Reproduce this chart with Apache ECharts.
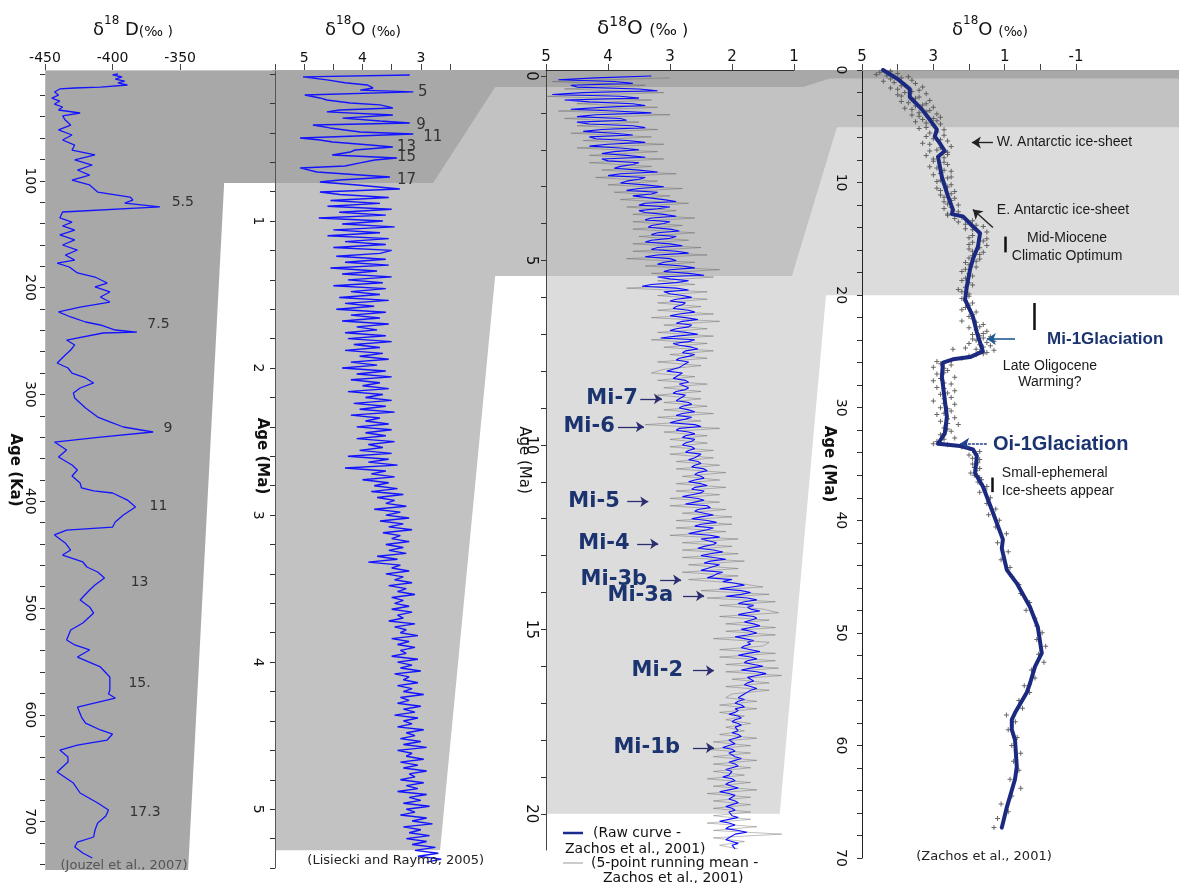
<!DOCTYPE html>
<html><head><meta charset="utf-8">
<script src="https://cdn.jsdelivr.net/npm/echarts@6/dist/echarts.min.js"></script>
<style>html,body{margin:0;padding:0;background:#fff}#c{width:1179px;height:883px}</style>
</head><body><div id="c"></div>
<script>
// ---------------- DATA ----------------
// Panel 1: EPICA deltaD  [age ka, deltaD permil]
const epicaDeltaD = [[0,-396],[0.9,-400],[2.8,-393],[4.7,-398],[6.6,-391],[8.4,-396],[10.3,-389],[12.2,-409],[13.1,-428],[14,-439],[16.9,-443],[19.7,-440],[22.5,-445],[25.3,-439],[28.1,-443],[30.9,-437],[33.7,-440],[36.5,-424],[39.3,-437],[43.1,-435],[47.8,-431],[52.4,-440],[57.1,-430],[61.8,-437],[66.5,-428],[71.2,-430],[75.8,-413],[80.5,-428],[85.2,-415],[89.9,-426],[94.6,-417],[99.3,-430],[103.9,-417],[110.5,-411],[115.2,-387],[118,-385],[120.8,-391],[124.5,-365],[129.2,-437],[134.8,-439],[138.6,-430],[142.3,-437],[146.1,-428],[150.7,-439],[155.4,-428],[160.1,-437],[164.8,-426],[169.5,-435],[174.2,-428],[177,-441],[180.7,-432],[186.3,-426],[190.1,-413],[195.7,-404],[199.4,-413],[204.1,-402],[208.8,-409],[213.5,-402],[218.2,-424],[222.8,-440],[227.5,-431],[232.2,-420],[235,-409],[239.7,-398],[241.6,-382],[242.5,-407],[249.1,-434],[253.7,-428],[258.4,-431],[263.1,-435],[270.6,-441],[275.3,-433],[280,-430],[284.6,-420],[289.3,-414],[294,-424],[298.7,-429],[303.4,-428],[308,-424],[312.7,-420],[317.4,-415],[321.2,-411],[325.8,-402],[330.5,-392],[335.2,-370],[339.9,-409],[344.6,-443],[352,-434],[358.6,-440],[366.1,-430],[370.8,-426],[376.4,-430],[383,-424],[387.6,-423],[390.4,-414],[392.3,-400],[398.9,-389],[405.4,-383],[412.9,-392],[419.5,-398],[424.2,-400],[427,-434],[431.6,-443],[439.1,-435],[445.7,-431],[450.4,-437],[456.9,-422],[461.6,-419],[466.3,-411],[471.9,-406],[478.5,-413],[483.1,-417],[492.5,-424],[499,-417],[504.7,-414],[514,-422],[520.6,-431],[530,-434],[534.6,-428],[539.3,-417],[545.9,-426],[555.2,-409],[564.6,-402],[576.8,-402],[580.5,-403],[584.3,-398],[592.7,-426],[602.1,-423],[607.7,-420],[614.2,-409],[618,-400],[623.6,-404],[628.3,-426],[633,-439],[639.5,-433],[644.2,-433],[653.6,-441],[663.9,-429],[673.2,-424],[682.6,-411],[689.1,-403],[694.8,-405],[701.3,-411],[707.9,-413],[714.4,-414],[719.1,-426],[723.8,-428],[729.4,-422],[734.1,-415]];
const epicaLabels = [[120,-348,'5.5'],[234,-366,'7.5'],[332,-359,'9'],[405,-366,'11'],[476,-380,'13'],[571,-380,'15.'],[691,-376,'17.3']];

// Panel 2: LR04 benthic d18O  [age Ma, d18O]
const lr04Early = [[0.007,3.19],[0.02,5.02],[0.04,4.61],[0.06,4.30],[0.075,3.92],[0.095,3.82],[0.11,4.04],[0.122,3.13],[0.143,4.99],[0.163,4.73],[0.177,4.61],[0.197,4.21],[0.21,3.70],[0.231,3.48],[0.245,4.39],[0.258,4.61],[0.279,3.48],[0.3,4.34],[0.32,3.70],[0.333,3.19],[0.347,4.85],[0.367,4.56],[0.395,4.04],[0.408,3.13],[0.435,5.07],[0.449,4.73],[0.463,4.51],[0.483,3.87],[0.497,3.48],[0.517,4.13],[0.531,4.21],[0.551,4.52],[0.571,3.41],[0.585,3.79],[0.605,4.04],[0.626,4.30],[0.639,5.07],[0.667,4.78],[0.687,4.04],[0.701,3.53],[0.721,4.39],[0.735,4.73],[0.755,4.09],[0.782,3.36],[0.803,4.73],[0.82,4.39]];
const lr04LateStart = 0.84, lr04LateStep = 0.02;
const lr04Late = [3.55,4.55,3.7,4.6,3.5,4.4,3.6,4.75,3.65,4.35,3.45,4.5,3.7,4.6,3.55,4.3,3.6,4.5,3.5,
3.7,4.45,3.6,4.3,3.55,4.55,3.75,4.35,3.5,4.25,3.65,4.5,3.6,4.2,3.7,4.4,3.55,4.3,3.8,4.45,
3.6,4.2,3.7,4.35,3.55,4.1,3.75,4.3,3.6,4.25,3.5,4.15,3.7,4.3,3.65,4.05,3.55,4.2,3.75,4.35,
3.6,4.1,3.5,4.2,3.7,4.0,3.55,4.25,3.65,3.95,3.5,4.15,3.6,4.05,3.45,4.2,3.7,3.95,3.55,4.1,
3.5,3.95,3.6,4.1,3.45,3.9,3.65,4.05,3.5,4.25,3.55,3.9,3.4,4.3,3.6,3.85,3.45,4.0,3.55,3.8,
3.4,3.85,3.3,3.75,3.45,3.6,3.25,3.8,3.35,3.6,3.2,3.7,3.3,3.55,3.15,3.65,3.35,3.5,3.2,3.6,
3.3,3.55,3.25,3.75,3.4,3.9,3.35,3.5,3.2,3.6,3.3,3.45,3.15,3.55,3.25,3.4,3.1,3.5,3.3,3.45,
3.2,3.5,3.15,3.4,3.3,3.55,3.1,3.45,3.25,3.35,3.05,3.5,3.2,3.4,3.1,3.35,3.25,3.5,3.05,3.4,
3.15,3.35,3.0,3.45,3.2,3.3,3.05,3.4,3.15,3.3,2.95,3.35,3.2,3.4,3.0,3.3,3.1,3.45,3.05,3.3,
3.15,3.4,2.95,3.25,3.1,3.35,3.0,3.3,2.9,3.4,3.15,3.25,2.95,3.35,3.05,3.3,2.9,3.2,3.1,3.35,
2.95,3.25,3.05,3.4,2.9,3.2,3.0,3.3,2.85,3.25,3.1,3.35,2.9,3.15,2.8,3.3,3.0,3.2,2.85,3.25,
2.9,3.15,2.75,3.1,2.7,3.05,2.65,2.9];
const lr04Labels = [[0.123,3.05,'5'],[0.347,3.08,'9'],[0.429,2.96,'11'],[0.497,3.41,'13'],[0.565,3.41,'15'],[0.721,3.41,'17']];

// Panel 3: Zachos et al. 2001, 0-21 Ma (raw at 0.0,0.1,...; rawB at 0.05,0.15,...; mean at 0.05,0.15,...)
const rawStart = 0.0, rawBStart = 0.05, meanStart = 0.05, zStep = 0.1;
const zachosRaw = [3.3,4.8,3.6,4.5,3.2,4.9,3.5,4.3,3.4,4.6,
3.3,4.5,3.7,4.3,3.4,4.4,3.6,4.2,3.4,4.3,
3.5,4.1,3.4,4.0,3.6,3.9,3.2,4.0,3.5,3.8,
3.1,3.7,3.3,3.6,2.9,3.5,3.2,3.4,2.9,3.4,
3.1,3.35,2.85,3.3,3.0,3.4,2.8,3.3,2.7,3.4,
2.9,3.2,2.6,3.1,2.45,3.0,2.9,3.45,2.7,3.0,
2.65,3.0,2.8,2.95,2.6,3.0,2.55,2.9,2.7,3.0,
2.55,3.15,2.7,2.85,2.55,2.8,2.7,2.9,2.75,2.85,
3.05,2.85,2.95,2.7,2.85,2.75,2.95,2.8,2.9,2.65,
2.85,2.6,2.9,2.75,3.0,2.5,2.9,2.6,2.8,2.65,
2.8,2.6,2.75,2.55,2.7,2.5,2.65,2.4,2.6,2.45,
2.7,2.4,2.65,2.5,2.8,2.45,2.75,2.35,2.6,2.3,
2.65,2.25,2.6,2.4,2.7,2.2,2.5,2.3,2.55,2.15,
2.5,2.1,2.45,2.2,2.5,2.25,2.4,2.15,1.8,2.2,
1.7,2.1,1.6,1.9,1.75,1.55,1.9,1.6,1.8,1.55,
1.85,1.6,1.95,1.65,1.7,1.85,1.55,1.9,1.6,1.8,
1.5,1.85,1.45,1.75,1.65,1.8,1.6,1.75,1.85,1.8,
1.95,1.8,1.9,2.05,1.85,2.0,1.85,1.95,2.0,1.85,
2.05,1.95,2.15,1.95,2.05,1.85,2.05,1.9,2.1,2.0,
2.15,1.95,2.1,1.9,2.2,1.95,2.05,1.9,2.1,1.95,
2.05,1.9,2.2,1.95,2.1,1.76,2.0,2.1,1.9,2.0];
const zachosRawB = [4.2,3.9,4.6,3.5,4.4,3.8,4.7,3.6,4.1,3.9,
4.2,3.8,4.5,3.6,4.1,3.9,4.3,3.7,4.0,3.8,
3.9,3.7,4.1,3.5,3.8,3.5,3.8,3.4,3.7,3.4,
3.5,3.2,3.6,3.1,3.4,3.0,3.5,3.1,3.3,3.0,
3.3,3.0,3.2,2.9,3.3,3.0,3.2,2.9,3.2,3.0,
3.1,2.8,3.0,2.7,3.2,2.7,3.3,2.9,3.1,2.8,
2.9,2.75,2.9,2.7,2.85,2.75,2.8,2.65,2.9,2.75,
2.9,2.6,2.95,2.65,2.75,2.6,2.85,2.7,2.8,2.95,
2.8,2.9,2.75,2.85,2.7,2.9,2.75,2.85,2.7,2.8,
2.7,2.8,2.65,2.9,2.6,2.85,2.7,2.75,2.6,2.75,
2.65,2.7,2.5,2.6,2.55,2.6,2.45,2.55,2.5,2.6,
2.5,2.6,2.45,2.65,2.55,2.6,2.4,2.55,2.45,2.5,
2.4,2.5,2.3,2.55,2.35,2.5,2.25,2.45,2.3,2.35,
2.3,2.35,2.2,2.4,2.15,2.3,2.0,1.95,2.0,1.85,
1.85,1.75,1.8,1.65,1.7,1.75,1.65,1.7,1.65,1.7,
1.7,1.75,1.8,1.75,1.8,1.7,1.75,1.7,1.75,1.65,
1.7,1.6,1.6,1.7,1.75,1.7,1.7,1.8,1.9,1.9,
1.85,1.95,1.95,1.9,1.95,1.9,1.95,1.9,1.9,1.95,
2.0,2.05,2.0,2.05,1.95,1.95,1.95,2.0,2.0,2.05,
2.0,2.05,2.0,2.05,2.05,2.0,1.95,2.0,2.0,2.05,
2.0,2.05,2.05,2.05,1.9,1.95,2.05,2.0,2.0,1.95];
const zachosMean = [3.0,4.9,3.4,4.7,3.1,5.0,3.3,4.5,3.2,4.8,
3.0,4.7,3.5,4.5,3.2,4.6,3.3,4.4,3.1,4.5,
3.2,4.3,3.1,4.3,3.3,4.1,2.9,4.2,3.2,4.0,
2.8,3.9,3.0,3.8,2.7,3.7,2.9,3.6,2.6,3.6,
2.8,3.6,2.6,3.5,2.7,3.6,2.5,3.6,2.4,3.7,
2.6,3.4,2.2,3.3,2.3,3.2,2.6,3.7,2.4,3.2,
2.4,3.2,2.5,3.2,2.3,3.3,2.2,3.1,2.4,3.2,
2.3,3.3,2.4,3.1,2.3,3.0,2.4,3.2,2.5,3.1,
3.3,2.6,3.2,2.4,3.1,2.5,3.2,2.5,3.1,2.4,
3.1,2.3,3.2,2.5,3.4,2.2,3.1,2.4,3.0,2.4,
3.0,2.3,3.0,2.3,2.9,2.2,2.9,2.1,2.8,2.2,
2.9,2.1,2.9,2.2,3.0,2.2,3.0,2.1,2.8,2.0,
2.9,2.0,2.9,2.1,3.0,1.9,2.8,2.0,2.8,1.9,
2.8,1.8,2.7,1.9,2.8,1.9,2.7,1.9,1.5,2.5,
1.4,2.4,1.3,2.2,1.5,1.25,2.2,1.4,2.1,1.3,
2.1,1.3,2.3,1.4,1.5,2.2,1.3,2.2,1.3,2.1,
1.25,2.1,1.2,2.0,1.4,2.1,1.4,2.0,2.1,1.6,
2.2,1.6,2.2,1.8,2.1,1.7,2.1,1.8,2.2,1.6,
2.3,1.7,2.4,1.7,2.3,1.6,2.3,1.7,2.3,1.8,
2.4,1.7,2.3,1.6,2.4,1.7,2.3,1.7,2.3,1.7,
2.3,1.7,2.4,1.6,2.3,1.2,2.3,1.8,2.2,1.9];
// Mi events: [age, label right edge value, arrow start, arrow end, text]
const miEvents = [[8.75,3.52,3.48,3.13,'Mi-7'],[9.51,3.89,3.84,3.42,'Mi-6'],[11.54,3.81,3.69,3.35,'Mi-5'],[12.68,3.65,3.53,3.19,'Mi-4'],[13.66,3.37,3.16,2.82,'Mi-3b'],[14.09,2.95,2.79,2.45,'Mi-3a'],[16.12,2.79,2.63,2.29,'Mi-2'],[18.21,2.84,2.63,2.29,'Mi-1b']];

// Panel 4: Cenozoic compilation [age Ma, d18O]
const cenozoicCurve = [[0,4.41],[0.8,4.0],[1.7,3.66],[2.4,3.66],[3.5,3.32],[4.4,3.10],[5.3,2.90],[5.9,2.96],[6.5,2.82],[7.2,2.68],[7.7,2.87],[9.5,2.76],[11.2,2.59],[12.4,2.45],[12.8,2.48],[13.0,2.17],[13.9,1.89],[14.5,1.69],[15.7,1.75],[16.8,1.89],[17.7,1.97],[19.2,2.06],[20.4,2.11],[21.9,1.89],[23.3,1.78],[24.2,1.69],[25.0,1.61],[25.5,1.97],[25.7,2.45],[26.0,2.73],[27.2,2.76],[29.3,2.68],[30.8,2.62],[32.3,2.68],[33.2,2.87],[33.4,2.25],[33.7,1.89],[34.3,1.78],[35.8,1.83],[37.0,1.61],[39.3,1.33],[41.7,1.05],[42.5,1.08],[44.4,0.94],[45.6,0.66],[47.7,0.29],[49.5,0.07],[51.8,-0.04],[53.0,0.15],[54.5,0.29],[55.3,0.38],[57.1,0.71],[57.7,0.80],[58.6,0.80],[59.5,0.71],[61.9,0.66],[63.0,0.71],[65.5,0.94],[67.3,1.08]];
const cenozoicPoints = [[0.2,4.5],[0.3,4.0],[0.5,4.3],[0.6,3.7],[0.8,4.2],[0.9,3.6],[1.1,4.1],[1.2,3.5],[1.4,3.9],[1.5,3.3],[1.7,4.0],[1.8,3.4],[2.0,3.8],[2.1,3.2],[2.3,3.9],[2.4,3.4],[2.6,3.6],[2.7,3.1],[2.9,3.7],[3.0,3.2],[3.2,3.5],[3.3,3.0],[3.5,3.6],[3.6,3.1],[3.8,3.4],[3.9,2.9],[4.1,3.4],[4.2,2.8],[4.4,3.3],[4.5,2.9],[4.7,3.2],[4.8,2.8],
[5.1,3.2],[5.3,2.7],[5.6,3.1],[5.8,2.7],[6.1,3.0],[6.3,2.6],[6.6,3.1],[6.8,2.5],[7.1,2.9],[7.3,2.6],[7.6,3.2],[7.8,2.7],[8.1,3.0],[8.4,2.6],[8.7,2.9],[9.0,2.5],[9.3,3.0],[9.6,2.6],[9.9,2.9],[10.2,2.5],[10.5,2.9],[10.8,2.4],[11.1,2.8],[11.4,2.4],[11.7,2.7],[12.0,2.3],[12.3,2.7],[12.6,2.3],[12.9,2.6],
[13.2,2.4],[13.4,1.9],[13.7,2.1],[13.9,1.6],[14.2,1.9],[14.4,1.5],[14.7,1.9],[15.0,1.5],[15.3,1.9],[15.6,1.5],[15.9,2.0],[16.2,1.6],[16.5,1.9],[16.8,1.7],
[17.1,2.1],[17.5,1.8],[17.9,2.2],[18.3,1.9],[18.7,2.2],[19.1,1.9],[19.5,2.3],[19.9,2.0],[20.3,2.2],[20.7,1.9],[21.1,2.1],[21.5,1.8],[21.9,2.0],
[22.3,2.2],[22.6,1.6],[22.9,2.0],[23.2,1.5],[23.5,1.9],[23.7,1.4],[23.9,1.9],[24.1,1.3],[24.3,2.0],[24.5,1.4],[24.7,2.1],[24.8,2.45],[24.9,1.3],[25.1,1.5],[25.3,1.8],[25.6,2.2],[25.9,2.9],
[26.2,2.5],[26.4,3.0],[26.7,2.6],[27.0,2.9],[27.3,2.4],[27.6,3.0],[27.9,2.5],[28.2,2.9],[28.5,2.4],[28.8,2.8],[29.1,2.5],[29.4,3.0],[29.7,2.4],[30.0,2.8],[30.3,2.5],[30.6,2.9],[30.9,2.4],[31.2,2.8],[31.5,2.3],[31.8,2.7],[32.1,2.5],[32.4,2.8],[32.7,2.4],[33.0,2.9],[33.2,3.0],[33.3,2.6],
[33.6,2.0],[33.9,1.7],[34.2,2.0],[34.6,1.7],[35.0,1.9],[35.4,1.7],[35.8,1.95],[36.2,1.7],[36.6,1.75],[37.0,1.5],[37.5,1.7],[38.0,1.4],[38.5,1.5],[39.0,1.25],[39.5,1.45],[40.0,1.15],[40.6,1.25],[41.2,0.95],
[42.0,1.2],[42.8,0.9],[43.5,1.1],[44.2,0.85],[45.0,0.8],[45.7,0.6],[46.5,0.55],[47.3,0.3],[48.0,0.4],[48.7,0.15],[49.4,0.1],[50.0,-0.05],[50.6,0.1],[51.2,-0.15],[51.9,0.05],[52.6,-0.1],[53.3,0.25],[54.0,0.15],[54.7,0.45],[55.3,0.3],[56.0,0.6],[56.7,0.5],[57.3,0.95],[57.9,0.7],[58.6,0.9],[59.3,0.65],[60.0,0.8],[60.7,0.55],[61.4,0.75],[62.2,0.6],[63.0,0.85],[63.8,0.55],[64.5,0.8],[65.2,1.1],[65.9,0.9],[66.5,1.2],[67.3,1.3]];
const cenozoicPointsB = [[0.1,4.2],[0.4,4.6],[0.7,3.9],[1.0,4.4],[1.3,3.8],[1.6,4.2],[1.9,3.6],[2.2,4.0],[2.5,3.5],[2.8,3.9],[3.1,3.3],[3.4,3.8],[3.7,3.2],[4.0,3.6],[4.3,3.0],[4.6,3.5],[4.9,3.0],[5.2,3.4],[5.5,2.9],[5.9,3.2],[6.2,2.8],[6.5,3.3],[6.9,2.8],[7.2,3.1],[7.5,2.6],[7.9,3.0],[8.2,2.7],[8.6,3.1],[8.9,2.7],[9.2,2.8],[9.5,2.5],[9.8,2.8],[10.1,2.7],[10.4,2.6],[10.7,2.8],[11.0,2.5],[11.3,2.7],[11.6,2.5],[11.9,2.6],[12.2,2.5],[12.5,2.45],[12.8,2.6],[13.1,2.2],[13.5,2.3],[13.8,1.8],[14.1,2.1],[14.5,1.7],[14.9,2.0],[15.2,1.6],[15.5,2.0],[15.8,1.7],[16.1,1.9],[16.4,1.7],[16.7,2.0],[17.0,1.8],[17.3,2.0],[17.7,2.1],[18.1,2.0],[18.5,2.1],[18.9,2.0],[19.3,2.1],[19.7,2.2],[20.1,2.0],[20.5,2.1],[20.9,2.0],[21.3,2.2],[21.7,1.9],[22.1,1.9],[22.4,1.8],[22.8,1.7],[23.1,1.8],[23.4,1.6],[23.6,1.7],[23.8,1.6],[24.0,1.8],[24.2,1.5],[24.4,1.7],[24.6,1.6],[24.8,1.8],[25.0,1.7],[25.2,1.6],[25.4,2.0],[25.8,2.5],[26.1,2.8],[26.5,2.7],[26.9,2.7],[27.4,2.8],[27.8,2.7],[28.3,2.7],[28.7,2.6],[29.2,2.7],[29.6,2.7],[30.1,2.6],[30.5,2.7],[31.0,2.6],[31.4,2.6],[31.9,2.6],[32.3,2.7],[32.8,2.7],[33.1,2.8],[33.5,2.2],[33.8,1.9],[34.1,1.8],[34.5,1.9],[34.9,1.75],[35.3,1.85],[35.6,1.8],[36.0,1.85],[36.4,1.65],[36.8,1.65],[37.3,1.55]];
// notes: [age, value, text, kind, anchor]
const cenozoicNotes = [[6.44,1.22,'W. Antarctic ice-sheet','note','left'],[12.49,1.22,'E. Antarctic ice-sheet','note','left'],[14.9,-0.75,'Mid-Miocene','note','center'],[16.5,-0.75,'Climatic Optimum','note','center'],[23.96,-0.19,'Mi-1Glaciation','glacS','left'],[26.3,-0.27,'Late Oligocene','note','center'],[27.7,-0.27,'Warming?','note','center'],[33.3,1.33,'Oi-1Glaciation','glacL','left'],[35.8,1.08,'Small-ephemeral','note','left'],[37.4,1.08,'Ice-sheets appear','note','left']];
// arrows / bars [v1, age1, v2, age2, kind]
const cenozoicMarks = [[1.33,6.44,1.92,6.44,'arrowK'],[1.33,14.0,1.89,12.4,'arrowK'],[0.71,23.9,1.50,23.9,'arrowB'],[1.50,33.2,2.25,33.2,'arrowN'],[0.99,14.8,0.99,16.2,'bar'],[0.18,20.7,0.18,23.1,'bar'],[1.36,36.2,1.36,37.5,'bar']];

// Zoom-window shading in data space: [panel, value, age]
const shadeLight = [[2,5,5.42],[2,1.03,5.42],[3,5.70,5.11],[3,-3.89,5.11],[3,-3.89,20],[3,6.01,20],[2,1.23,20],[2,5,20]];
const shadeMedium = [[1,5.5,-0.027],[3,-3.89,0],[3,-3.89,5.11],[3,5.70,5.11],[2,1.03,5.42],[2,5.82,5.42],[1,2.67,5.28],[1,5.5,5.28]];
const shadeDark = [[0,-450,-3.75],[3,-3.89,0],[3,-3.89,0.76],[3,5.90,0.76],[2,0.855,0.30],[2,5.82,0.30],[1,2.79,0.741],[0,-317.4,102],[0,-344.1,745.3],[0,-450,745.3]];

// ---------------- CHART ----------------
const FD = '"DejaVu Sans", sans-serif';
const FL = '"Liberation Sans", Arial, sans-serif';
const range = (a, b, s) => { const r = []; for (let v = a; v <= b + 1e-9; v += s) r.push(+v.toFixed(4)); return r; };

function xAx(gi, min, max, inverse, ticks, labels, lineColor, fs) {
  return {type: 'value', gridIndex: gi, position: 'top', min, max, inverse,
    axisLine: {show: true, onZero: false, lineStyle: {color: lineColor, width: 1}},
    axisTick: {show: true, customValues: ticks, length: 6, lineStyle: {color: '#444'}},
    axisLabel: {show: true, customValues: labels, fontSize: fs, fontFamily: FD, color: '#111', margin: 5},
    splitLine: {show: false}};
}
function yAx(gi, min, max, ticks, labels, name, nameStyle, nameGap, margin, fs, lineColor) {
  return {type: 'value', gridIndex: gi, min, max, inverse: true,
    name, nameLocation: 'middle', nameRotate: -90, nameGap, nameTextStyle: nameStyle, nameMoveOverlap: false,
    axisLine: {show: true, onZero: false, lineStyle: {color: lineColor, width: 1}},
    axisTick: {show: true, customValues: ticks, length: 5, lineStyle: {color: '#333'}},
    axisLabel: {show: true, customValues: labels, rotate: -90, fontSize: fs, fontFamily: FD, color: '#111', margin},
    splitLine: {show: false}};
}
function titleRich(left, big, small, mid, tail) {
  return {left, top: 10, text: '{a|δ}{b|18}{a|' + mid + '}{c|' + tail + '}',
    textStyle: {fontWeight: 'normal', rich: {
      a: {fontFamily: FD, fontSize: big, fontWeight: 'normal', color: '#111', lineHeight: 24, verticalAlign: 'bottom'},
      b: {fontFamily: FD, fontSize: small, fontWeight: 'normal', color: '#111', lineHeight: 24, verticalAlign: 'top'},
      c: {fontFamily: FD, fontSize: big - 4, fontWeight: 'normal', color: '#111', lineHeight: 24, verticalAlign: 'bottom'}}}};
}
function labelSeries(gi, items) {
  return {type: 'scatter', xAxisIndex: gi, yAxisIndex: gi, symbolSize: 0, silent: true, clip: false, z: 6,
    itemStyle: {opacity: 1}, emphasis: {disabled: true},
    data: items.map(it => ({value: [it.v, it.a], label: Object.assign({show: true, formatter: it.t, distance: 0, opacity: 1}, it.lab)}))};
}
function interleave(a, a0, b, b0, step) {
  const out = [];
  for (let i = 0; i < Math.max(a.length, b.length); i++) {
    if (i < a.length) out.push([a[i], +(a0 + i * step).toFixed(3)]);
    if (i < b.length) out.push([b[i], +(b0 + i * step).toFixed(3)]);
  }
  return out;
}

const chart = echarts.init(document.getElementById('c'), null, {renderer: 'canvas'});

const nameBold = {fontFamily: FD, fontSize: 15, fontWeight: 'bold', color: '#111'};
const option = {
  animation: false,
  backgroundColor: '#ffffff',
  title: [titleRich(88, 18, 12, ' D', '(‰ )'), titleRich(320, 18, 12, 'O ', '(‰)'), titleRich(592, 20, 14, 'O ', '(‰ )'), titleRich(947, 18, 12, 'O ', '(‰)')],
  grid: [
    {left: 45, top: 70, width: 227, height: 800},
    {left: 275, top: 70, width: 175, height: 798},
    {left: 546, top: 70, width: 248, height: 780},
    {left: 862, top: 70, width: 214, height: 788}
  ],
  xAxis: [
    xAx(0, -450, -282, false, [-450, -400, -350], [-450, -400, -350], '#c8c8c8', 14),
    xAx(1, 2.5, 5.5, true, [5.5, 5, 4.5, 4, 3.5, 3, 2.5], [5, 4, 3], '#aaaaaa', 14),
    xAx(2, 1, 5, true, [5, 4, 3, 2, 1], [5, 4, 3, 2, 1], '#333333', 15),
    xAx(3, -1, 5, true, [5, 4, 3, 2, 1, 0, -1], [5, 3, 1, -1], '#999999', 15)
  ],
  yAxis: [
    yAx(0, -3.75, 745.3, range(0, 740, 20), range(100, 700, 100), 'Age (Ka)', nameBold, 23, 8, 14, '#bbbbbb'),
    yAx(1, -0.027, 5.4, range(0, 5.4, 0.2), [1, 2, 3, 4, 5], 'Age (Ma)', Object.assign({padding: [0, 26, 0, 0]}, nameBold), 6, 10, 14, '#555555'),
    yAx(2, -0.163, 20.98, range(0, 20, 1), [0, 5, 10, 15, 20], 'Age (Ma)', {fontFamily: FD, fontSize: 15, color: '#111'}, 15, 8, 15, '#444444'),
    yAx(3, 0, 70, range(0, 70, 2), range(0, 70, 10), 'Age (Ma)', nameBold, 26, 14, 14, '#222222')
  ],
  series: [
    {type: 'line', xAxisIndex: 0, yAxisIndex: 0, showSymbol: false, z: 4,
      lineStyle: {color: '#1414ff', width: 1.3}, data: epicaDeltaD.map(d => [d[1], d[0]])},
    {type: 'line', xAxisIndex: 1, yAxisIndex: 1, showSymbol: false, z: 4,
      lineStyle: {color: '#1414ff', width: 1.4},
      data: lr04Early.map(d => [d[1], d[0]]).concat(lr04Late.map((v, i) => [v, +(lr04LateStart + i * lr04LateStep).toFixed(3)]))},
    {type: 'line', xAxisIndex: 2, yAxisIndex: 2, showSymbol: false, z: 3, name: '(5-point running mean - Zachos et al., 2001)',
      lineStyle: {color: 'rgba(95,95,95,0.5)', width: 0.8},
      data: zachosMean.map((v, i) => [v, +(meanStart + i * zStep).toFixed(3)])},
    {type: 'line', xAxisIndex: 2, yAxisIndex: 2, showSymbol: false, z: 4, name: '(Raw curve - Zachos et al., 2001)',
      lineStyle: {color: '#0a0aff', width: 1.1},
      data: interleave(zachosRaw, rawStart, zachosRawB, rawBStart, zStep)},
    {type: 'scatter', xAxisIndex: 3, yAxisIndex: 3, z: 3, silent: true,
      symbol: 'path://M2,0h1v2h2v1h-2v2h-1v-2h-2v-1h2z', symbolSize: 5,
      itemStyle: {color: '#555555', opacity: 0.9},
      data: cenozoicPoints.concat(cenozoicPointsB).map(d => [d[1], d[0]])},
    {type: 'line', xAxisIndex: 3, yAxisIndex: 3, showSymbol: false, z: 4,
      lineStyle: {color: '#1b2a80', width: 4, cap: 'round', join: 'round'},
      data: cenozoicCurve.map(d => [d[1], d[0]])},
    // annotation series
    labelSeries(0, epicaLabels.map(d => ({a: d[0], v: d[1], t: d[2], lab: {position: 'inside', fontFamily: FD, fontSize: 14, color: '#333'}}))
      .concat([{a: 741.6, v: -391.5, t: '(Jouzel et al., 2007)', lab: {position: 'inside', fontFamily: FD, fontSize: 13, color: '#555'}}])),
    labelSeries(1, lr04Labels.map(d => ({a: d[0], v: d[1], t: d[2], lab: {position: 'right', fontFamily: FD, fontSize: 15, color: '#333'}}))
      .concat([{a: 5.35, v: 3.43, t: '(Lisiecki and Raymo, 2005)', lab: {position: 'inside', fontFamily: FD, fontSize: 13, color: '#222'}}])),
    Object.assign(labelSeries(2, miEvents.map(d => ({a: d[0], v: d[1], t: d[4], lab: {position: 'left', fontFamily: FD, fontSize: 21, fontWeight: 'bold', color: '#1b3470'}}))), {
      markLine: {silent: true, symbol: ['none', 'arrow'], symbolSize: 8, label: {show: false},
        lineStyle: {color: '#2b2d6e', width: 1.3, type: 'solid'},
        data: miEvents.map(d => [{coord: [d[2], d[0]]}, {coord: [d[3], d[0]]}])}
    }),
    Object.assign(labelSeries(3, cenozoicNotes.map(d => {
      const st = d[3] === 'note' ? {fontFamily: FL, fontSize: 14, color: '#1a1a1a'}
        : d[3] === 'glacS' ? {fontFamily: FL, fontSize: 17, fontWeight: 'bold', color: '#1b3470'}
        : {fontFamily: FL, fontSize: 20, fontWeight: 'bold', color: '#1b3470'};
      return {a: d[0], v: d[1], t: d[2], lab: Object.assign({position: d[4] === 'left' ? 'right' : 'inside'}, st)};
    }).concat([{a: 69.9, v: 1.58, t: '(Zachos et al., 2001)', lab: {position: 'inside', fontFamily: FD, fontSize: 13, color: '#222'}}])), {
      markLine: {silent: true, symbol: ['none', 'arrow'], symbolSize: 9, label: {show: false},
        data: cenozoicMarks.map(m => {
          const ls = m[4] === 'arrowK' ? {color: '#222', width: 1.4, type: 'solid'}
            : m[4] === 'arrowB' ? {color: '#1f5a96', width: 1.6, type: 'solid'}
            : m[4] === 'arrowN' ? {color: '#1f3f8f', width: 1.6, type: [3, 1]}
            : {color: '#111', width: 2.5, type: 'solid'};
          const sym = m[4] === 'bar' ? 'none' : 'arrow';
          return [{coord: [m[0], m[1]], symbol: 'none', lineStyle: ls}, {coord: [m[2], m[3]], symbol: sym, lineStyle: ls}];
        })}
    })
  ]
};
chart.setOption(option);

function toPx(list) { return list.map(p => chart.convertToPixel({gridIndex: p[0]}, [p[1], p[2]])); }
const legendFont = {fontFamily: FD, fontSize: 14, fill: '#111', verticalAlign: 'middle', align: 'left'};
chart.setOption({graphic: [
  {type: 'polygon', z: -10, silent: true, shape: {points: toPx(shadeLight)}, style: {fill: '#dcdcdc'}},
  {type: 'polygon', z: -9, silent: true, shape: {points: toPx(shadeMedium)}, style: {fill: '#c2c2c2'}},
  {type: 'polygon', z: -8, silent: true, shape: {points: toPx(shadeDark)}, style: {fill: '#a8a8a8'}},
  {type: 'line', silent: true, shape: {x1: 563, y1: 833, x2: 583, y2: 833}, style: {stroke: '#1c2a8c', lineWidth: 2.5}},
  {type: 'text', silent: true, x: 593, y: 833, style: Object.assign({text: '(Raw curve -'}, legendFont)},
  {type: 'text', silent: true, x: 565, y: 849, style: Object.assign({text: 'Zachos et al., 2001)'}, legendFont)},
  {type: 'line', silent: true, shape: {x1: 563, y1: 863, x2: 583, y2: 863}, style: {stroke: '#999', lineWidth: 1}},
  {type: 'text', silent: true, x: 591, y: 863, style: Object.assign({text: '(5-point running mean -'}, legendFont)},
  {type: 'text', silent: true, x: 603, y: 878, style: Object.assign({text: 'Zachos et al., 2001)'}, legendFont)}
]});
</script></body></html>
